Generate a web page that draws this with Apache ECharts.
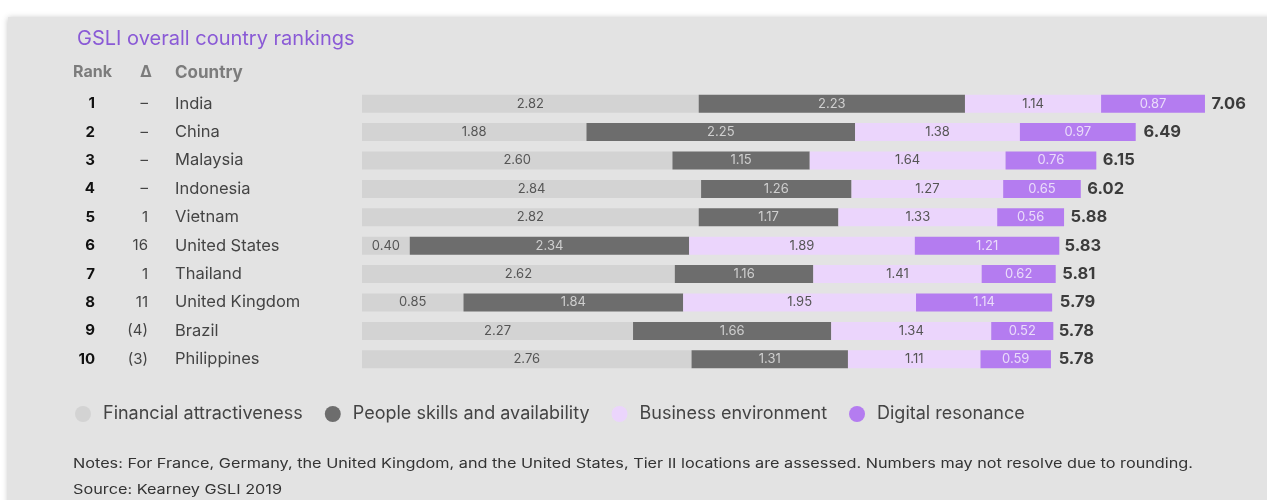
<!DOCTYPE html>
<html>
<head>
<meta charset="utf-8">
<script src="https://cdn.jsdelivr.net/npm/echarts@6/dist/echarts.min.js"></script>
<style>
html,body{margin:0;padding:0;background:#fff;}
#chart{width:1267px;height:500px;}
</style>
</head>
<body>
<div id="chart"></div>
<script>
const countries = ['India','China','Malaysia','Indonesia','Vietnam','United States','Thailand','United Kingdom','Brazil','Philippines'];
const ranks = ['1','2','3','4','5','6','7','8','9','10'];
const deltas = ['–','–','–','–','1','16','1','11','(4)','(3)'];
const financial = [2.82,1.88,2.60,2.84,2.82,0.40,2.62,0.85,2.27,2.76];
const people = [2.23,2.25,1.15,1.26,1.17,2.34,1.16,1.84,1.66,1.31];
const business = [1.14,1.38,1.64,1.27,1.33,1.89,1.41,1.95,1.34,1.11];
const digital = [0.87,0.97,0.76,0.65,0.56,1.21,0.62,1.14,0.52,0.59];
const totals = [7.06,6.49,6.15,6.02,5.88,5.83,5.81,5.79,5.78,5.78];
const seriesNames = ['Financial attractiveness','People skills and availability','Business environment','Digital resonance'];
const notesText = 'Notes: For France, Germany, the United Kingdom, and the United States, Tier II locations are assessed. Numbers may not resolve due to rounding.';
const sourceText = 'Source: Kearney GSLI 2019';

const FONT = 'Inter, Roboto, sans-serif';
const colors = ['#d3d3d3','#6d6d6d','#ebd5fc','#b47cf0'];
const labelColors = ['#555555','#cfcfcf','#555555','#eadcfa'];
const values = [financial, people, business, digital];

// horizontal stretch for footnote text to match the reference width
const mctx = document.createElement('canvas').getContext('2d');
mctx.font = '13px Inter';
const notesW = mctx.measureText(notesText).width;
const notesScale = 1120 / notesW;

const chart = echarts.init(document.getElementById('chart'));
const barSeries = seriesNames.map((name, i) => ({
  name: name,
  type: 'bar',
  stack: 'total',
  barWidth: 18,
  data: values[i],
  itemStyle: { color: colors[i] },
  label: {
    show: true,
    position: 'inside',
    color: labelColors[i],
    fontFamily: FONT,
    fontSize: 13,
    formatter: p => p.value.toFixed(2)
  },
  emphasis: { disabled: true }
}));

barSeries.push({
  name: 'Total',
  type: 'scatter',
  data: totals.map((t, i) => [t, i]),
  symbolSize: 1,
  itemStyle: { color: 'transparent' },
  label: {
    show: true,
    position: 'right',
    distance: 6,
    color: '#111',
    fontFamily: FONT,
    fontWeight: 'bold',
    fontSize: 16.5,
    formatter: p => p.value[0].toFixed(2)
  },
  emphasis: { disabled: true }
});

function catAxis(margin, align, formatter, style) {
  return {
    type: 'category',
    inverse: true,
    position: 'left',
    data: countries,
    axisLine: { show: false },
    axisTick: { show: false },
    splitLine: { show: false },
    axisLabel: Object.assign({ margin: margin, align: align, formatter: formatter, fontFamily: FONT }, style)
  };
}

chart.setOption({
  backgroundColor: '#ffffff',
  animation: false,
  title: {
    text: 'GSLI overall country rankings',
    left: 72, top: 24,
    textStyle: { color: '#8a5ad6', fontFamily: FONT, fontSize: 20, fontWeight: 'normal' }
  },
  legend: {
    data: seriesNames,
    left: 70, top: 400,
    icon: 'circle',
    itemWidth: 16, itemHeight: 16,
    itemGap: 22,
    textStyle: { color: '#444', fontFamily: FONT, fontSize: 18, padding: [0, 0, 0, 7] },
    selectedMode: false
  },
  grid: { left: 362, top: 89.5, width: 895.5, height: 284 },
  xAxis: { type: 'value', min: 0, max: 7.5, show: false },
  yAxis: [
    catAxis(187, 'left', v => v, { color: '#444', fontSize: 16.5 }),
    catAxis(267, 'right', (v, i) => ranks[i], { color: '#111', fontSize: 15, fontWeight: 'bold' }),
    catAxis(214, 'right', (v, i) => deltas[i], { color: '#444', fontSize: 15 })
  ],
  graphic: [
    { type: 'rect', z: -10, shape: { x: 8, y: 17, width: 1270, height: 490 },
      style: { fill: '#e3e3e3', shadowBlur: 6, shadowColor: 'rgba(0,0,0,0.25)', shadowOffsetY: 1 } },
    { type: 'text', left: 73, top: 64, style: { text: 'Rank', fill: '#7c7c7c', font: 'bold 16px ' + FONT } },
    { type: 'text', left: 140, top: 64, style: { text: 'Δ', fill: '#7c7c7c', font: 'bold 16px ' + FONT } },
    { type: 'text', left: 175, top: 64, style: { text: 'Country', fill: '#7c7c7c', font: 'bold 17px ' + FONT } },
    { type: 'text', x: 73, y: 458, scaleX: notesScale, style: { text: notesText, fill: '#333', font: '13px ' + FONT } },
    { type: 'text', x: 73, y: 484, scaleX: notesScale, style: { text: sourceText, fill: '#333', font: '13px ' + FONT } }
  ],
  series: barSeries
});
</script>
</body>
</html>
